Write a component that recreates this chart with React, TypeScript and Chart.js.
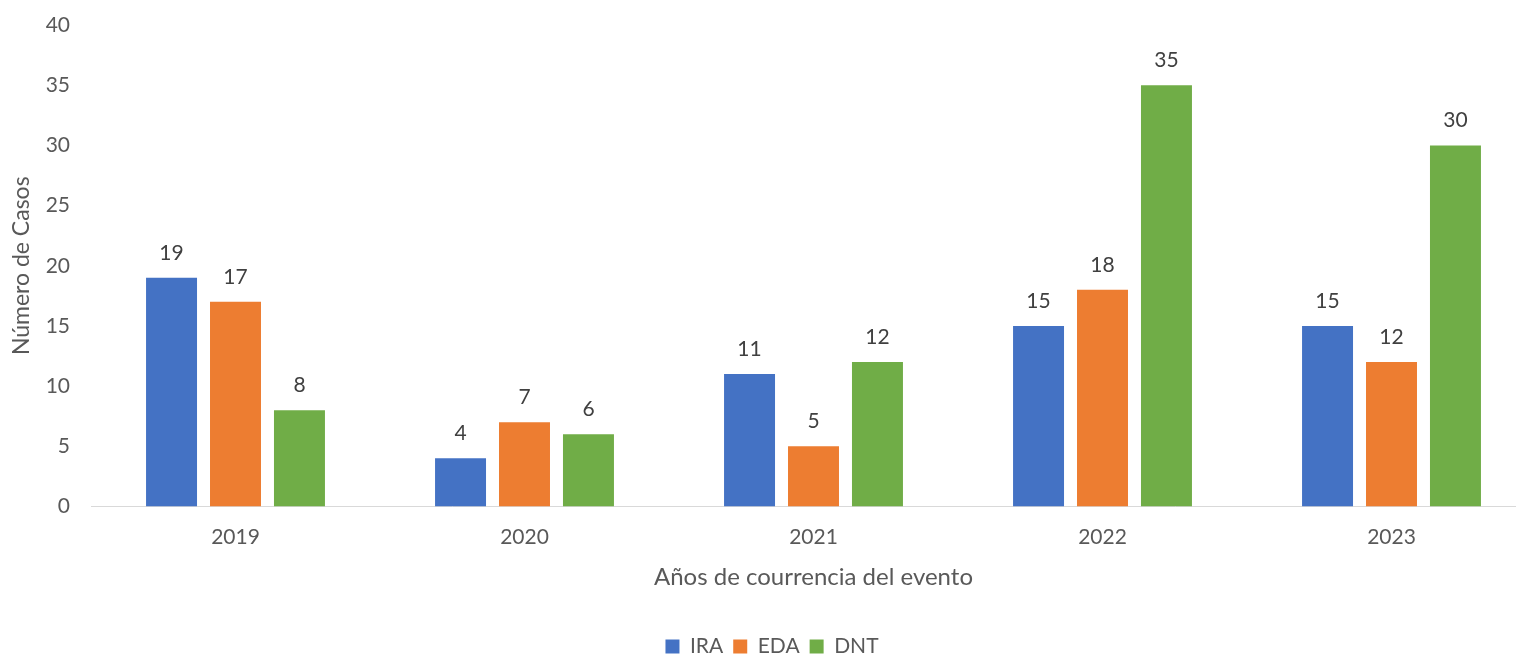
import React, { useEffect, useRef } from "react";
import { Chart, registerables } from "chart.js";

Chart.register(...registerables);

const categories = ["2019", "2020", "2021", "2022", "2023"];
const seriesNames = ["IRA", "EDA", "DNT"];
const iraValues = [19, 4, 11, 15, 15];
const edaValues = [17, 7, 5, 18, 12];
const dntValues = [8, 6, 12, 35, 30];
const seriesColors = ["#4472C4", "#ED7D31", "#70AD47"];

const FONT = "Lato, 'Open Sans', sans-serif";
const TEXT = "#595959";

const dataLabels = {
  id: "dataLabels",
  afterDatasetsDraw(chart: any) {
    const ctx = chart.ctx;
    ctx.save();
    ctx.font = `21px ${FONT}`;
    ctx.fillStyle = "#404040";
    ctx.textAlign = "center";
    ctx.textBaseline = "middle";
    chart.data.datasets.forEach((ds: any, i: number) => {
      const meta = chart.getDatasetMeta(i);
      meta.data.forEach((bar: any, j: number) => {
        ctx.fillText(String(ds.data[j]), bar.x, bar.y - 25);
      });
    });
    ctx.restore();
  },
};

export default function App() {
  const ref = useRef<HTMLCanvasElement>(null);
  useEffect(() => {
    document.body.style.margin = "0";
    const values = [iraValues, edaValues, dntValues];
    const chart = new Chart(ref.current!, {
      type: "bar",
      data: {
        labels: categories,
        datasets: seriesNames.map((n, i) => ({
          label: n,
          data: values[i],
          backgroundColor: seriesColors[i],
          categoryPercentage: 0.664,
          barPercentage: 0.797,
        })),
      },
      options: {
        animation: false,
        responsive: false,
        layout: { padding: { top: 25, right: 4, left: 8, bottom: 10 } },
        plugins: {
          legend: {
            position: "bottom",
            labels: {
              boxWidth: 14,
              boxHeight: 14,
              padding: 10,
              color: TEXT,
              font: { family: FONT, size: 21 },
            },
          },
          tooltip: { enabled: false },
        },
        scales: {
          x: {
            grid: { display: false, drawTicks: false },
            border: { display: true, color: "#D9D9D9", width: 1 },
            ticks: { color: TEXT, font: { family: FONT, size: 21 }, padding: 18 },
            title: {
              display: true,
              text: "Años de courrencia del evento",
              color: TEXT,
              font: { family: FONT, size: 24 },
              padding: { top: 0, bottom: 34 },
            },
            afterFit(scale: any) {
              scale.height = 119.5;
            },
          },
          y: {
            min: 0,
            max: 40,
            grid: { display: false, drawTicks: false },
            border: { display: false },
            ticks: { stepSize: 5, color: TEXT, font: { family: FONT, size: 21 }, padding: 21 },
            title: {
              display: true,
              text: "Número de Casos",
              color: TEXT,
              font: { family: FONT, size: 23 },
              padding: { top: 0, bottom: 4 },
            },
            afterFit(scale: any) {
              scale.width = 83;
              scale.paddingTop = 0;
              scale.paddingBottom = 0;
            },
          },
        },
      },
      plugins: [dataLabels],
    });
    return () => chart.destroy();
  }, []);
  return (
    <div style={{ position: "absolute", left: 0, top: 0, width: 1516, height: 655, overflow: "hidden", background: "#fff" }}>
      <canvas ref={ref} width={1540} height={677} style={{ display: "block" }} />
    </div>
  );
}
